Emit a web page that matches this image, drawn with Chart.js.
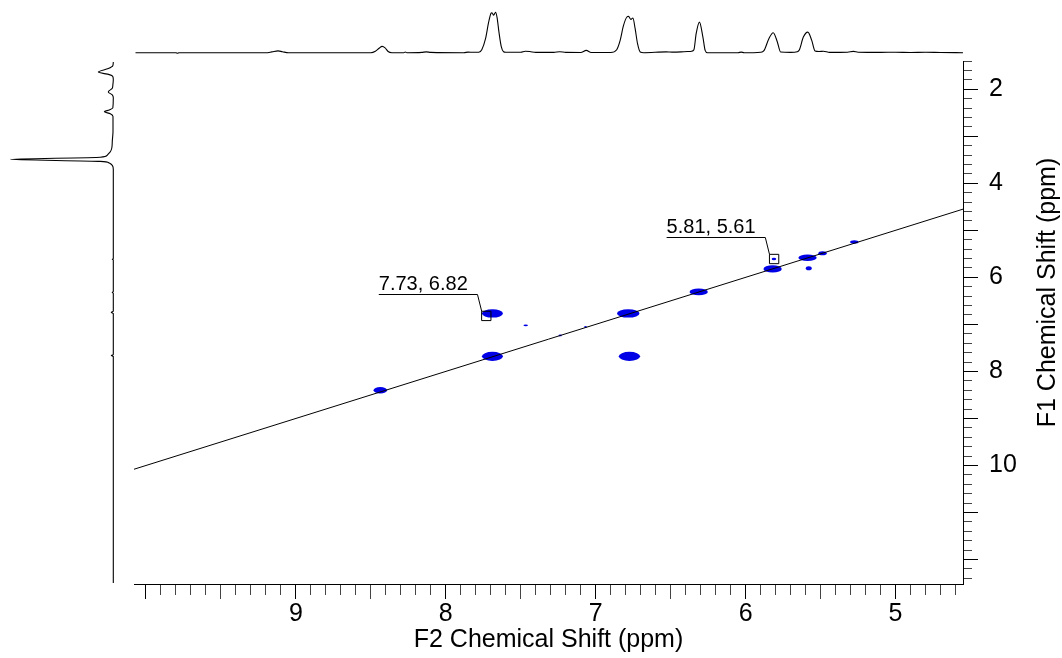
<!DOCTYPE html>
<html><head><meta charset="utf-8">
<script src="https://cdn.jsdelivr.net/npm/chart.js@4.4.1/dist/chart.umd.min.js"></script>
<style>
html,body{margin:0;padding:0;background:#fff;}
#wrap{position:relative;width:1062px;height:658px;overflow:hidden;background:#fff;}
canvas{position:absolute;}
#main{left:0;top:0;width:1062px;height:658px;}
#top{left:134px;top:0;width:829px;height:61px;}
#side{left:0;top:61px;width:134px;height:523px;}
</style></head><body>
<div id="wrap">
<canvas id="main" width="1062" height="658"></canvas>
<canvas id="top" width="829" height="61"></canvas>
<canvas id="side" width="134" height="523"></canvas>
</div>
<script>
// ---------- data ----------
const f2Range = [4.55, 10.08];      // F2 axis (ppm)
const f1Range = [1.40, 12.52];      // F1 axis (ppm)
const f2TickLabels = [9, 8, 7, 6, 5];
const f1TickLabels = [2, 4, 6, 8, 10];

// diagonal F1 = F2
const diagF2 = [10.08, 4.55];
const diagF1 = [10.08, 4.55];

// 2D cross peaks: centre (ppm) and half widths (ppm)
const peakF2    = [8.437, 7.689, 7.689, 6.783, 6.775, 6.313, 5.820, 5.587, 5.487, 5.275, 5.579, 5.811, 7.467, 7.237, 7.068];
const peakF1    = [8.400, 7.680, 6.767, 6.767, 7.680, 6.310, 5.820, 5.583, 5.487, 5.247, 5.806, 5.610, 7.020, 7.235, 7.054];
const peakHalfW2 = [0.045, 0.070, 0.070, 0.075, 0.071, 0.061, 0.061, 0.061, 0.028, 0.028, 0.020, 0.015, 0.015, 0.011, 0.009];
const peakHalfW1 = [0.070, 0.096, 0.089, 0.089, 0.096, 0.071, 0.078, 0.068, 0.043, 0.036, 0.043, 0.025, 0.018, 0.018, 0.020];

// annotations
const annF2 = [7.73, 5.81];
const annF1 = [6.82, 5.61];
const annLabels = ['7.73, 6.82', '5.81, 5.61'];

// top 1D projection (F2 ppm, relative intensity)
const topF2  = [10.07, 9.80, 9.79, 9.78, 9.20, 9.16, 9.12, 9.09, 9.05, 8.50, 8.47, 8.445, 8.425, 8.405, 8.385, 8.36, 8.28, 8.27, 8.26, 8.16, 8.13, 8.10, 7.88, 7.85, 7.82, 7.78, 7.76, 7.735, 7.715, 7.70, 7.692, 7.681, 7.668, 7.658, 7.645, 7.63, 7.615, 7.60, 7.50, 7.47, 7.44, 7.40, 7.28, 7.24, 7.20, 7.10, 7.063, 7.03, 6.90, 6.86, 6.837, 6.815, 6.792, 6.781, 6.765, 6.752, 6.737, 6.721, 6.703, 6.68, 6.53, 6.49, 6.43, 6.38, 6.36, 6.345, 6.33, 6.308, 6.285, 6.27, 6.255, 6.05, 6.03, 6.01, 5.90, 5.878, 5.845, 5.816, 5.789, 5.767, 5.70, 5.655, 5.641, 5.615, 5.585, 5.559, 5.537, 5.51, 5.481, 5.44, 5.32, 5.281, 5.25, 5.10, 5.00, 4.90, 4.80, 4.70, 4.55];
const topInt = [0, 0, -0.6, 0, 0, 0.8, 1.8, 1.0, 0, 0, 1.5, 4.5, 6.3, 4.8, 1.2, 0, 0, 0.7, 0, 0.3, 0.8, 0.3, 0, 0.6, 0.4, 0.5, 3, 14, 30, 39, 40, 37.5, 40.5, 35, 20, 6, 1, 0.5, 0.5, 1.5, 1.2, 0.3, 0.3, 1.0, 0.3, 0.2, 2.3, 0.2, 0.2, 3, 12.3, 27, 35.7, 36.3, 33.3, 34.7, 24, 9, 0.7, 0, 0.8, 0.6, 0.8, 1.2, 1.5, 3, 19, 30.6, 15.6, 2.3, 0, 0, 0.6, 0, 0.5, 2, 14, 20, 11, 0.7, 0.3, 1, 3, 15.6, 20.6, 12.3, 1.7, 1.2, 1.5, 0.3, 0.5, 1.3, 0.5, 0.3, 0.5, 0.2, 0.5, 0.2, 0];
const topIntRange = [-8.3, 52.7];

// left 1D projection (F1 ppm, relative intensity)
const sideF1  = [1.42, 1.50, 1.56, 1.635, 1.69, 1.73, 1.80, 1.92, 1.98, 2.057, 2.12, 2.18, 2.40, 2.44, 2.48, 2.52, 2.58, 2.90, 3.10, 3.25, 3.33, 3.40, 3.445, 3.49, 3.535, 3.57, 3.62, 3.70, 5.60, 5.615, 5.63, 6.30, 6.32, 6.34, 6.72, 6.745, 6.77, 7.64, 7.66, 7.68, 12.5];
const sideInt = [0, 0.5, 5, 15, 4, 0.5, 0, 0.5, 1, 5, 1, 0, 0.5, 4, 9, 3, 0.3, 0.3, 1, 1.5, 3, 6, 13, 103, 13, 4, 1, 0, 0, 1, 0, 0, 1, 0, 0, 2, 0, 0, 2, 0, 0];
const sideIntRange = [-20.7, 113.3];

// ---------- drawing ----------
const FONT = '"Liberation Sans", Arial, Helvetica, sans-serif';
const near = (v, s) => Math.abs(v / s - Math.round(v / s)) < 1e-6;
const inList = (v, list) => list.some(t => Math.abs(t - v) < 1e-6);

const blobPlugin = {
  id: 'blobs',
  beforeDatasetsDraw(chart) {
    const {ctx, chartArea: a, scales: {x, y}} = chart;
    ctx.save();
    ctx.beginPath(); ctx.rect(a.left, a.top, a.right - a.left, a.bottom - a.top); ctx.clip();
    ctx.fillStyle = '#0000E6';
    for (let i = 0; i < peakF2.length; i++) {
      const cx = x.getPixelForValue(peakF2[i]), cy = y.getPixelForValue(peakF1[i]);
      const rx = Math.abs(x.getPixelForValue(peakF2[i] + peakHalfW2[i]) - cx);
      const ry = Math.abs(y.getPixelForValue(peakF1[i] + peakHalfW1[i]) - cy);
      ctx.beginPath(); ctx.ellipse(cx, cy, rx, ry, 0, 0, Math.PI * 2); ctx.fill();
    }
    ctx.restore();
  }
};

const annPlugin = {
  id: 'ann',
  afterDatasetsDraw(chart) {
    const {ctx, scales: {x, y}} = chart;
    ctx.save();
    ctx.strokeStyle = '#000'; ctx.lineWidth = 1; ctx.fillStyle = '#000';
    ctx.font = '20px ' + FONT; ctx.textAlign = 'left'; ctx.textBaseline = 'alphabetic';
    for (let i = 0; i < annF2.length; i++) {
      const cx = x.getPixelForValue(annF2[i]), cy = y.getPixelForValue(annF1[i]);
      const ly = Math.round(cy - 22) + 0.5;
      ctx.beginPath();
      ctx.moveTo(cx - 4.6, cy - 4.6);
      ctx.lineTo(cx - 8.8, ly);
      ctx.lineTo(cx - 107.5, ly);
      ctx.stroke();
      ctx.fillText(annLabels[i], cx - 107.5, ly - 5);
    }
    ctx.restore();
  }
};

const yTitlePlugin = {
  id: 'ytitle',
  afterDraw(chart) {
    const {ctx, chartArea: a} = chart;
    ctx.save();
    ctx.translate(a.right + 85, (a.top + a.bottom) / 2 - 30);
    ctx.rotate(-Math.PI / 2);
    ctx.fillStyle = '#000'; ctx.font = '25px ' + FONT;
    ctx.textAlign = 'center'; ctx.textBaseline = 'middle';
    ctx.fillText('F1 Chemical Shift (ppm)', 0, 0);
    ctx.restore();
  }
};

const common = {responsive: false, animation: false, devicePixelRatio: 1,
  plugins: {legend: {display: false}, tooltip: {enabled: false}}};

new Chart(document.getElementById('main'), {
  type: 'scatter',
  data: {datasets: [
    {type: 'line', data: diagF2.map((v, i) => ({x: v, y: diagF1[i]})), borderColor: '#000', borderWidth: 1, pointRadius: 0, fill: false},
    {type: 'scatter', data: annF2.map((v, i) => ({x: v, y: annF1[i]})), pointStyle: 'rect', pointRadius: 6.6, pointHoverRadius: 6.6,
     borderColor: '#000', borderWidth: 1, backgroundColor: 'rgba(0,0,0,0)'}
  ]},
  options: Object.assign({}, common, {
    layout: {padding: {left: 134, top: 61, right: 0, bottom: 0}},
    scales: {
      x: {type: 'linear', position: 'bottom', reverse: true, min: f2Range[0], max: f2Range[1],
        afterFit: s => { s.height = 74; },
        border: {display: true, color: '#000', width: 1},
        grid: {drawOnChartArea: false, drawTicks: true, tickLength: 15, tickWidth: 1,
          tickColor: c => near(c.tick.value, 1) ? '#000' : '#444',
          tickBorderDash: c => near(c.tick.value, 1) ? [] : (near(c.tick.value, 0.5) ? [14, 100] : [10, 100])},
        ticks: {stepSize: 0.1, includeBounds: false, autoSkip: false, maxRotation: 0, minRotation: 0, padding: 0,
          color: '#000', font: {family: FONT, size: 25},
          callback: v => inList(v, f2TickLabels) ? String(Math.round(v)) : ''},
        title: {display: true, text: 'F2 Chemical Shift (ppm)', color: '#000', font: {family: FONT, size: 25}, padding: {top: 0, bottom: 3}}
      },
      y: {type: 'linear', position: 'right', reverse: true, min: f1Range[0], max: f1Range[1],
        afterFit: s => { s.width = 99; },
        border: {display: true, color: '#000', width: 1},
        grid: {drawOnChartArea: false, drawTicks: true, tickLength: 15, tickWidth: 1,
          tickColor: c => near(c.tick.value, 1) ? '#000' : '#444',
          tickBorderDash: c => near(c.tick.value, 1) ? [] : [8, 100]},
        ticks: {stepSize: 0.2, includeBounds: false, autoSkip: false, padding: 11,
          color: '#000', font: {family: FONT, size: 25},
          callback: v => inList(v, f1TickLabels) ? String(Math.round(v)) : ''},
        title: {display: false}
      }
    }
  }),
  plugins: [blobPlugin, annPlugin, yTitlePlugin]
});

new Chart(document.getElementById('top'), {
  type: 'line',
  data: {datasets: [{data: topF2.map((v, i) => ({x: v, y: topInt[i]})), borderColor: '#000', borderWidth: 1.1,
    pointRadius: 0, cubicInterpolationMode: 'monotone', fill: false}]},
  options: Object.assign({}, common, {
    layout: {padding: 0},
    scales: {
      x: {type: 'linear', reverse: true, min: f2Range[0], max: f2Range[1], display: false},
      y: {type: 'linear', min: topIntRange[0], max: topIntRange[1], display: false}
    }
  })
});

new Chart(document.getElementById('side'), {
  type: 'line',
  data: {datasets: [{data: sideF1.map((v, i) => ({x: sideInt[i], y: v})), borderColor: '#000', borderWidth: 1.1,
    pointRadius: 0, cubicInterpolationMode: 'monotone', fill: false}]},
  options: Object.assign({}, common, {
    indexAxis: 'y',
    layout: {padding: 0},
    scales: {
      x: {type: 'linear', reverse: true, min: sideIntRange[0], max: sideIntRange[1], display: false},
      y: {type: 'linear', reverse: true, min: f1Range[0], max: f1Range[1], display: false}
    }
  })
});
</script>
</body></html>
